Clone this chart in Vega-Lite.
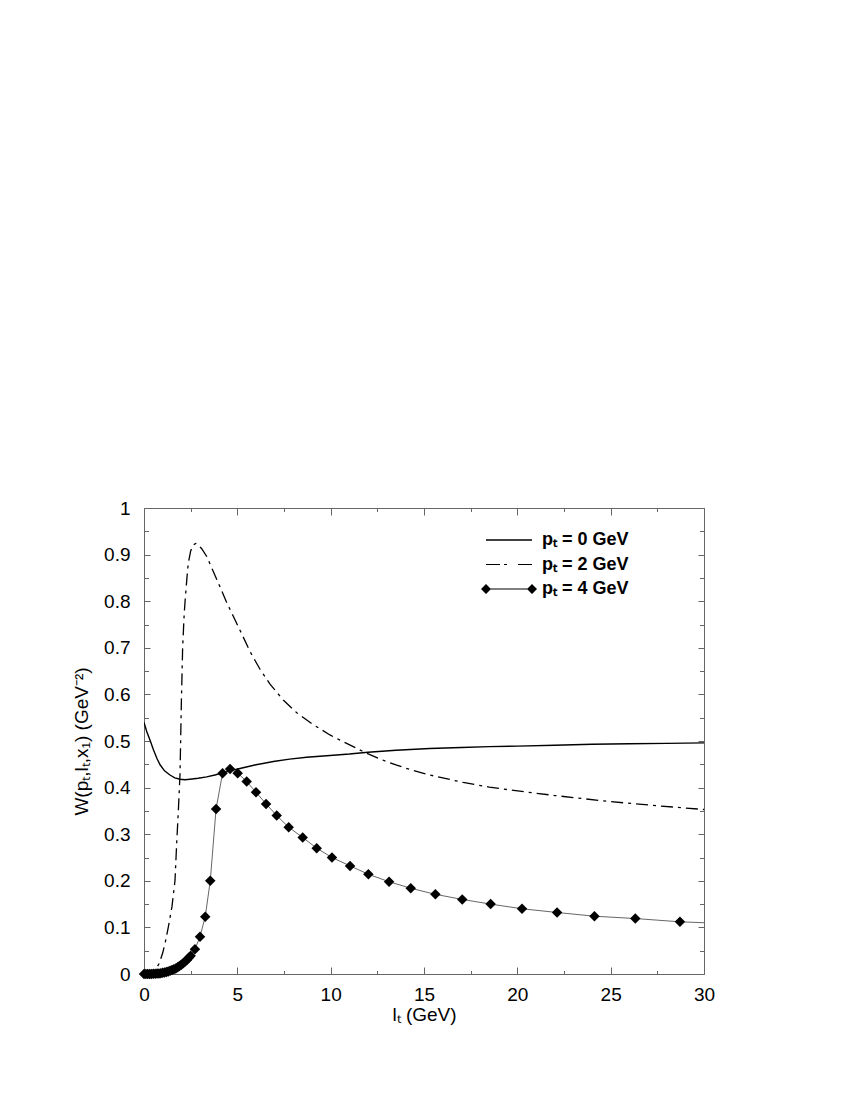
{
  "$schema": "https://vega.github.io/schema/vega-lite/v6.json",
  "width": 560,
  "height": 466,
  "autosize": "none",
  "padding": {"left": 144, "top": 508, "right": 146, "bottom": 126},
  "background": "white",
  "config": {
    "view": {"stroke": "#666", "strokeWidth": 1},
    "font": "Liberation Sans",
    "axis": {
      "grid": false,
      "domain": false,
      "tickColor": "#666",
      "tickWidth": 1,
      "labelFont": "Liberation Sans",
      "labelFontSize": 19,
      "labelColor": "black",
      "labelFlush": false,
      "labelOverlap": false,
      "titleFont": "Liberation Sans",
      "titleFontSize": 19,
      "titleFontWeight": "normal",
      "titleColor": "black"
    }
  },
  "datasets": {
    "p0": [
      {"x": 0, "y": 0.540}, {"x": 0.15, "y": 0.520}, {"x": 0.32, "y": 0.502}, {"x": 0.5, "y": 0.482},
      {"x": 0.7, "y": 0.462}, {"x": 0.86, "y": 0.449}, {"x": 1.1, "y": 0.436}, {"x": 1.39, "y": 0.427},
      {"x": 1.65, "y": 0.421}, {"x": 1.93, "y": 0.418}, {"x": 2.2, "y": 0.417}, {"x": 2.46, "y": 0.418},
      {"x": 2.9, "y": 0.420}, {"x": 3.36, "y": 0.423}, {"x": 3.8, "y": 0.427}, {"x": 4.25, "y": 0.432},
      {"x": 4.7, "y": 0.437}, {"x": 5.14, "y": 0.441}, {"x": 6.0, "y": 0.449}, {"x": 6.93, "y": 0.456},
      {"x": 7.8, "y": 0.461}, {"x": 8.71, "y": 0.465}, {"x": 9.96, "y": 0.469}, {"x": 11.0, "y": 0.472},
      {"x": 12.0, "y": 0.476}, {"x": 13.5, "y": 0.480}, {"x": 15.3, "y": 0.484}, {"x": 17.0, "y": 0.486},
      {"x": 18.5, "y": 0.488}, {"x": 20.0, "y": 0.489}, {"x": 22.0, "y": 0.491}, {"x": 24.0, "y": 0.493},
      {"x": 26.0, "y": 0.494}, {"x": 28.0, "y": 0.495}, {"x": 30.0, "y": 0.496}
    ],
    "p2": [
      {"x": 0, "y": 0}, {"x": 0.4, "y": 0.002}, {"x": 0.6, "y": 0.008}, {"x": 0.82, "y": 0.023},
      {"x": 1.0, "y": 0.045}, {"x": 1.15, "y": 0.07}, {"x": 1.3, "y": 0.10}, {"x": 1.5, "y": 0.145},
      {"x": 1.66, "y": 0.20}, {"x": 1.75, "y": 0.28}, {"x": 1.84, "y": 0.35}, {"x": 1.93, "y": 0.43},
      {"x": 2.0, "y": 0.58}, {"x": 2.07, "y": 0.70}, {"x": 2.15, "y": 0.77}, {"x": 2.2, "y": 0.80},
      {"x": 2.3, "y": 0.85}, {"x": 2.37, "y": 0.881}, {"x": 2.5, "y": 0.908}, {"x": 2.64, "y": 0.921},
      {"x": 2.78, "y": 0.924}, {"x": 2.91, "y": 0.921}, {"x": 3.1, "y": 0.912}, {"x": 3.36, "y": 0.896},
      {"x": 3.7, "y": 0.865}, {"x": 4.07, "y": 0.831}, {"x": 4.4, "y": 0.800}, {"x": 4.79, "y": 0.767},
      {"x": 5.2, "y": 0.733}, {"x": 5.68, "y": 0.692}, {"x": 6.2, "y": 0.655}, {"x": 6.75, "y": 0.622},
      {"x": 7.46, "y": 0.588}, {"x": 8.2, "y": 0.560}, {"x": 9.07, "y": 0.535}, {"x": 9.96, "y": 0.513},
      {"x": 10.5, "y": 0.502}, {"x": 11.75, "y": 0.477}, {"x": 12.6, "y": 0.462}, {"x": 13.54, "y": 0.448},
      {"x": 14.4, "y": 0.437}, {"x": 15.32, "y": 0.427}, {"x": 17.1, "y": 0.411}, {"x": 18.5, "y": 0.401},
      {"x": 19.8, "y": 0.394}, {"x": 22.0, "y": 0.383}, {"x": 24.96, "y": 0.370}, {"x": 27.5, "y": 0.361},
      {"x": 30.0, "y": 0.353}
    ],
    "p4pts": [
      {"x": 0, "y": 0}, {"x": 0.1, "y": 0}, {"x": 0.2, "y": 0}, {"x": 0.3, "y": 0.0001},
      {"x": 0.4, "y": 0.0002}, {"x": 0.5, "y": 0.0003}, {"x": 0.6, "y": 0.0005}, {"x": 0.7, "y": 0.0009},
      {"x": 0.8, "y": 0.0013}, {"x": 0.9, "y": 0.0018}, {"x": 1.0, "y": 0.0025}, {"x": 1.1, "y": 0.0033},
      {"x": 1.2, "y": 0.0043}, {"x": 1.3, "y": 0.0055}, {"x": 1.4, "y": 0.0069}, {"x": 1.5, "y": 0.0084},
      {"x": 1.6, "y": 0.010}, {"x": 1.7, "y": 0.012}, {"x": 1.8, "y": 0.0146}, {"x": 1.9, "y": 0.017},
      {"x": 2.0, "y": 0.020}, {"x": 2.1, "y": 0.023}, {"x": 2.2, "y": 0.027}, {"x": 2.3, "y": 0.030},
      {"x": 2.4, "y": 0.035}, {"x": 2.5, "y": 0.039}, {"x": 2.73, "y": 0.053}, {"x": 3.0, "y": 0.080},
      {"x": 3.28, "y": 0.123}, {"x": 3.55, "y": 0.200}, {"x": 3.86, "y": 0.354}, {"x": 4.21, "y": 0.431},
      {"x": 4.61, "y": 0.440}, {"x": 5.02, "y": 0.431}, {"x": 5.5, "y": 0.413}, {"x": 6.0, "y": 0.390},
      {"x": 6.54, "y": 0.365}, {"x": 7.11, "y": 0.340}, {"x": 7.75, "y": 0.315}, {"x": 8.5, "y": 0.293},
      {"x": 9.25, "y": 0.270}, {"x": 10.07, "y": 0.250}, {"x": 11.04, "y": 0.232}, {"x": 12.02, "y": 0.214},
      {"x": 13.13, "y": 0.198}, {"x": 14.29, "y": 0.184}, {"x": 15.61, "y": 0.171}, {"x": 17.05, "y": 0.160},
      {"x": 18.57, "y": 0.150}, {"x": 20.25, "y": 0.140}, {"x": 22.13, "y": 0.132}, {"x": 24.13, "y": 0.124},
      {"x": 26.32, "y": 0.119}, {"x": 28.71, "y": 0.112}
    ],
    "p4end": [
      {"x": 28.71, "y": 0.112}, {"x": 30.0, "y": 0.110}
    ]
  },
  "resolve": {"axis": {"x": "independent", "y": "independent"}},
  "layer": [
    {
      "data": {"name": "p0"},
      "mark": {"type": "line", "color": "black", "strokeWidth": 1.4, "clip": true},
      "encoding": {
        "x": {"field": "x", "type": "quantitative", "scale": {"domain": [0, 30], "nice": false, "zero": false},
          "axis": {"orient": "bottom", "values": [0, 5, 10, 15, 20, 25, 30], "tickSize": -7, "labelPadding": 18, "title": "lₜ (GeV)", "titlePadding": 1}},
        "y": {"field": "y", "type": "quantitative", "scale": {"domain": [0, 1], "nice": false, "zero": false},
          "axis": {"orient": "left", "values": [0, 0.1, 0.2, 0.3, 0.4, 0.5, 0.6, 0.7, 0.8, 0.9, 1], "format": "~g", "tickSize": -6, "labelPadding": 20, "title": "W(pₜ,lₜ,x₁) (GeV⁻²)", "titlePadding": 12}}
      }
    },
    {
      "data": {"name": "p2"},
      "mark": {"type": "line", "color": "black", "strokeWidth": 1.3, "strokeDash": [12, 5, 3, 5], "clip": true},
      "encoding": {
        "x": {"field": "x", "type": "quantitative",
          "axis": {"orient": "top", "values": [0, 5, 10, 15, 20, 25, 30], "tickSize": -7, "labels": false, "title": null}},
        "y": {"field": "y", "type": "quantitative",
          "axis": {"orient": "right", "values": [0, 0.1, 0.2, 0.3, 0.4, 0.5, 0.6, 0.7, 0.8, 0.9, 1], "tickSize": -6, "labels": false, "title": null}}
      }
    },
    {
      "data": {"name": "p4pts"},
      "mark": {"type": "line", "color": "#555", "strokeWidth": 0.9},
      "encoding": {
        "x": {"field": "x", "type": "quantitative",
          "axis": {"orient": "bottom", "values": [2.5, 7.5, 12.5, 17.5, 22.5, 27.5], "tickSize": -3.5, "labels": false, "title": null}},
        "y": {"field": "y", "type": "quantitative",
          "axis": {"orient": "left", "values": [0.05, 0.15, 0.25, 0.35, 0.45, 0.55, 0.65, 0.75, 0.85, 0.95], "tickSize": -4.5, "labels": false, "title": null}}
      }
    },
    {
      "data": {"name": "p4end"},
      "mark": {"type": "line", "color": "#555", "strokeWidth": 0.9},
      "encoding": {
        "x": {"field": "x", "type": "quantitative",
          "axis": {"orient": "top", "values": [2.5, 7.5, 12.5, 17.5, 22.5, 27.5], "tickSize": -3.5, "labels": false, "title": null}},
        "y": {"field": "y", "type": "quantitative",
          "axis": {"orient": "right", "values": [0.05, 0.15, 0.25, 0.35, 0.45, 0.55, 0.65, 0.75, 0.85, 0.95], "tickSize": -4.5, "labels": false, "title": null}}
      }
    },
    {
      "data": {"name": "p4pts"},
      "mark": {"type": "point", "shape": "diamond", "filled": true, "color": "black", "size": 110, "opacity": 1},
      "encoding": {
        "x": {"field": "x", "type": "quantitative", "axis": null},
        "y": {"field": "y", "type": "quantitative", "axis": null}
      }
    },
    {
      "data": {"values": []},
      "mark": {"type": "point", "fill": "black", "stroke": "transparent", "strokeWidth": 0, "opacity": 1},
      "encoding": {
        "x": {"field": "x", "type": "quantitative", "axis": null},
        "y": {"field": "y", "type": "quantitative", "axis": null},
        "shape": {
          "field": "s", "type": "nominal",
          "scale": {
            "domain": ["pₜ = 0 GeV", "pₜ = 2 GeV", "pₜ = 4 GeV"],
            "range": [
              "M-4.6,-0.13L4.6,-0.13L4.6,0.13L-4.6,0.13Z",
              "M-4.6,-0.12L-1.8,-0.12L-1.8,0.12L-4.6,0.12ZM-1.0,-0.12L-0.4,-0.12L-0.4,0.12L-1.0,0.12ZM1.8,-0.12L4.6,-0.12L4.6,0.12L1.8,0.12Z",
              "M-4.6,-0.1L4.6,-0.1L4.6,0.1L-4.6,0.1ZM-5.6,0L-4.6,-1L-3.6,0L-4.6,1ZM3.6,0L4.6,-1L5.6,0L4.6,1Z"
            ]
          },
          "legend": {
            "orient": "none",
            "legendX": 356,
            "legendY": 23,
            "title": null,
            "padding": 0,
            "symbolSize": 100,
            "symbolFillColor": "black",
            "symbolStrokeColor": "transparent",
            "symbolStrokeWidth": 0,
            "symbolOpacity": 1,
            "labelFont": "Liberation Sans",
            "labelFontSize": 18,
            "labelFontWeight": "bold",
            "labelColor": "black",
            "labelOffset": 24,
            "rowPadding": 6.5,
            "labelLimit": 300
          }
        }
      }
    }
  ]
}
